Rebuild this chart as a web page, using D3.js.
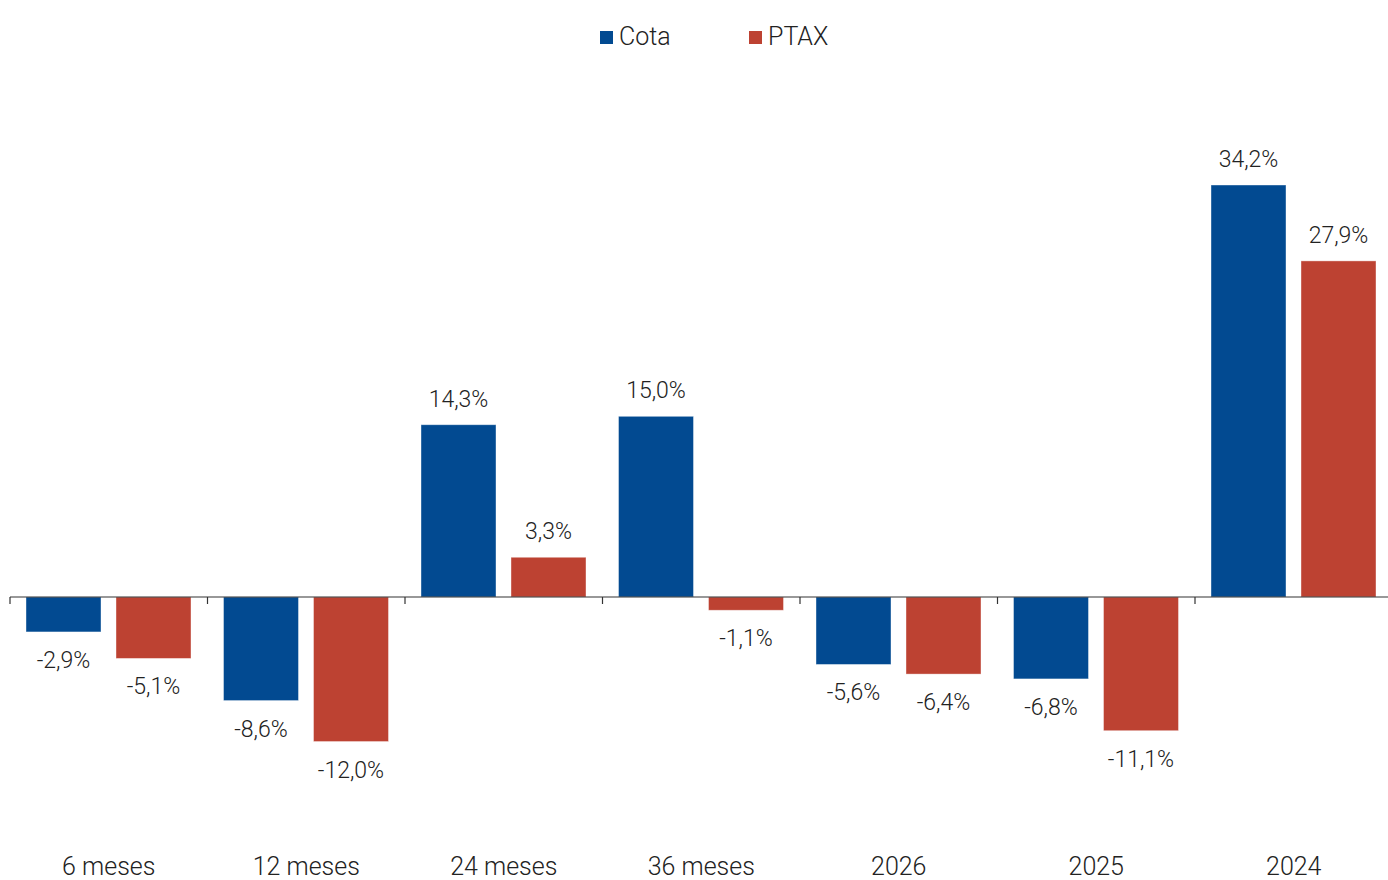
<!DOCTYPE html>
<html><head><meta charset="utf-8">
<script src="https://cdn.jsdelivr.net/npm/d3@7"></script>
<style>body{margin:0;background:#fff;} text{font-family:Roboto,"Open Sans",sans-serif;font-weight:300;fill:#222;}</style>
</head><body><svg id="c" width="1388" height="880"></svg>
<script>
const categories = ["6 meses","12 meses","24 meses","36 meses","2026","2025","2024"];
const seriesNames = ["Cota","PTAX"];
const cota = [-2.9,-8.6,14.3,15.0,-5.6,-6.8,34.2];
const ptax = [-5.1,-12.0,3.3,-1.1,-6.4,-11.1,27.9];
const colors = ["#024A91","#BD4232"];

const svg = d3.select("#c");
const x0 = d3.scaleBand().domain(categories).range([10,1392.5]).paddingInner(0).paddingOuter(0);
const x1 = d3.scaleBand().domain(seriesNames).range([16,181]).paddingInner(15/90);
const y = d3.scaleLinear().domain([0,34.2]).range([597,185]);

const data = categories.map((c,i)=>({cat:c, vals:[{s:"Cota",v:cota[i]},{s:"PTAX",v:ptax[i]}]}));
const fmt = v => d3.format(".1f")(v).replace("\u2212","-").replace(".",",") + "%";

const g = svg.append("g");
const groups = g.selectAll("g.cat").data(data).join("g").attr("transform",d=>`translate(${x0(d.cat)},0)`);
groups.selectAll("rect").data(d=>d.vals).join("rect")
  .attr("x",d=>x1(d.s)).attr("width",x1.bandwidth())
  .attr("y",d=>Math.min(y(d.v),y(0))).attr("height",d=>Math.abs(y(d.v)-y(0)))
  .attr("fill",(d,i)=>colors[i]).attr("stroke","#fff").attr("stroke-opacity",0.5).attr("stroke-width",0.8);
groups.selectAll("text.lbl").data(d=>d.vals).join("text").attr("class","lbl")
  .attr("x",d=>x1(d.s)+x1.bandwidth()/2)
  .attr("y",d=>d.v>=0 ? y(d.v)-18 : y(d.v)+36)
  .attr("text-anchor","middle").attr("font-size",23).text(d=>fmt(d.v));

// axis
const ax = svg.append("g").attr("transform",`translate(0,${y(0)})`);
ax.append("line").attr("x1",10).attr("x2",1388).attr("stroke","#333").attr("stroke-width",1.2);
const tickPos = d3.range(categories.length).map(i=>x0(categories[i]));
ax.selectAll("line.t").data(tickPos).join("line").attr("class","t")
  .attr("x1",d=>d).attr("x2",d=>d).attr("y1",0).attr("y2",7).attr("stroke","#333").attr("stroke-width",1.2);

svg.append("g").selectAll("text").data(categories).join("text")
  .attr("x",d=>x0(d)+x0.bandwidth()/2).attr("y",875)
  .attr("text-anchor","middle").attr("font-size",25).text(d=>d);

// legend
const leg = svg.append("g");
const legX = [600,749];
seriesNames.forEach((s,i)=>{
  leg.append("rect").attr("x",legX[i]).attr("y",31).attr("width",13).attr("height",13).attr("fill",colors[i]);
  leg.append("text").attr("x",legX[i]+19).attr("y",45).attr("font-size",25).text(s);
});
</script></body></html>
